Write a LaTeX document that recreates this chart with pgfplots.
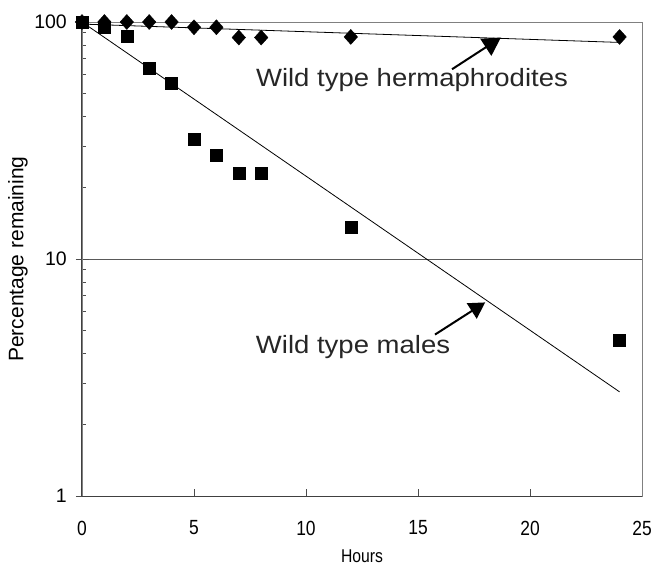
\documentclass[border=0pt]{standalone}
\usepackage{pgfplots}
\pgfplotsset{compat=1.18}
\usepackage{fontspec}
\setmainfont{Liberation Sans}
\newfontfamily\narrowsans[FakeStretch=0.85]{Liberation Sans}
\newfontfamily\widesans[FakeStretch=1.1]{Liberation Sans}
\usetikzlibrary{arrows.meta}

\begin{document}
\begin{tikzpicture}
\begin{axis}[
    name=ax,
    scale only axis,
    width=560pt, height=474pt,
    ymode=log,
    xmin=0, xmax=25, ymin=1, ymax=100,
    xtick={0,5,10,15,20,25},
    xticklabels={0,5,10,15,20,25},
    ytick={1,10,100},
    yticklabels={1,10,100},
    /pgf/number format/assume math mode=true,
    tick pos=left,
    tick align=inside,
    major tick length=7pt,
    minor tick length=4pt,
    tick style={black!70, line width=0.8pt},
    axis line style={black!50, line width=0.9pt},
    ymajorgrids,
    major grid style={black!65, line width=0.9pt},
    xticklabel style={font=\narrowsans\fontsize{20.5}{21}\selectfont, anchor=center, inner sep=0pt, yshift=-32pt},
    yticklabel style={font=\fontsize{19.5}{20}\selectfont, anchor=east, inner sep=0pt, xshift=-15pt},
    xlabel={Hours},
    ylabel={Percentage remaining},
    xlabel style={font=\narrowsans\fontsize{18.5}{19}\selectfont, at={(axis description cs:0.5,-0.1266)}, anchor=center, inner sep=0pt},
    ylabel style={font=\fontsize{21}{22}\selectfont, at={(axis description cs:-0.1143,0.5)}, anchor=center, inner sep=0pt},
    clip=false,
]
% trend lines
\addplot [black, line width=0.8pt, no marks] coordinates {(0,98) (24,82)};
\addplot [black, line width=0.8pt, no marks] coordinates {(0,100) (24,2.75)};

% wild type hermaphrodites
\addplot [only marks, mark=diamond*, mark size=7.5pt, mark options={xscale=1.2}, black] coordinates {
    (0,100) (1,100) (2,100) (3,100) (4,100) (5,95) (6,95)
    (7,86) (8,86) (12,86.5) (24,86.5)
};
% wild type males
\addplot [only marks, mark=square*, mark size=6pt, black] coordinates {
    (0,100) (1,95) (2,87) (3,64) (4,55) (5,32) (6,27.5)
    (7,23) (8,23) (12,13.6) (24,4.55)
};

% darker left and bottom axis lines, outward major y ticks
\draw [black!75, line width=1pt] (rel axis cs:0,1) -- (rel axis cs:0,0) -- (rel axis cs:1,0);
\draw [black!70, line width=0.8pt] ([xshift=-6pt]axis cs:0,1) -- (axis cs:0,1);
\draw [black!70, line width=0.8pt] ([xshift=-6pt]axis cs:0,10) -- (axis cs:0,10);
\draw [black!70, line width=0.8pt] ([xshift=-6pt]axis cs:0,100) -- (axis cs:0,100);

% annotations
\node [font=\widesans\fontsize{25}{26}\selectfont, text=black!85] at (axis cs:14.73,56.8) {Wild type hermaphrodites};
\draw [-{Triangle[length=18pt,width=20pt]}, line width=2pt] (axis cs:16.52,63.2) -- (axis cs:18.7,86);
\node [font=\widesans\fontsize{25}{26}\selectfont, text=black!85] at (axis cs:12.1,4.27) {Wild type males};
\draw [-{Triangle[length=16pt,width=18pt]}, line width=2pt] (axis cs:15.76,4.8) -- (axis cs:18.0,6.56);
\end{axis}
\pgfresetboundingbox
\path (ax.south west) ++(-82pt,-70pt) rectangle ([shift={(13pt,22pt)}]ax.north east);
\end{tikzpicture}
\end{document}
